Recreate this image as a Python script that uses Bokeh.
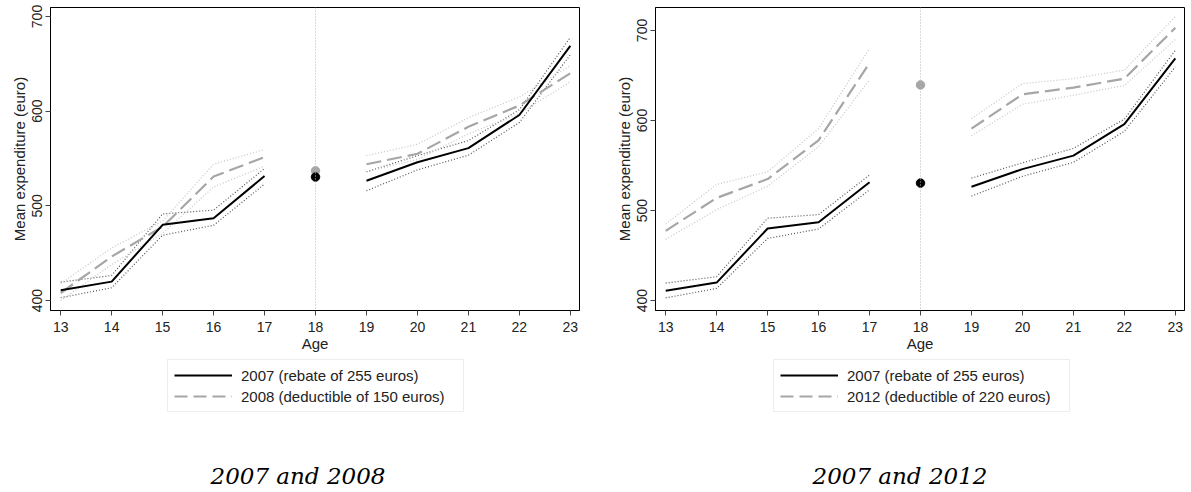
from bokeh.plotting import figure
from bokeh.models import Range1d, Legend, LegendItem, Span, FixedTicker, Label
from bokeh.layouts import row, column
from bokeh.embed import file_html
from bokeh.resources import INLINE

# ---- data ----
ages_pre = [13, 14, 15, 16, 17]
ages_post = [19, 20, 21, 22, 23]
age_cut = 18
age_ticks = [13, 14, 15, 16, 17, 18, 19, 20, 21, 22, 23]
y_ticks = [400, 500, 600, 700]

y2007_pre = [411, 420, 480, 487, 531.5]
y2007_cut = 530.5
y2007_post = [526.5, 546, 561, 596, 669]
y2007_lo_pre = [403, 413.5, 469, 479.5, 523]
y2007_lo_post = [516, 538, 553.5, 588, 659.5]
y2007_hi_pre = [419.5, 426.5, 491.5, 495.5, 539.5]
y2007_hi_post = [536, 553, 569, 601.5, 678]

y2008_pre = [408, 446.5, 478, 531, 551.5]
y2008_cut = 537
y2008_post = [544, 555, 583.5, 606, 640]
y2008_lo_pre = [400, 438, 471, 520, 542]
y2008_lo_post = [536, 549, 576, 597.5, 631]
y2008_hi_pre = [418, 455.5, 484, 544, 559.5]
y2008_hi_post = [553, 565, 593, 615, 648]

y2012_pre = [477.5, 514, 535, 578, 664]
y2012_cut = 639.5
y2012_post = [591, 629, 636.5, 646.5, 703]
y2012_lo_pre = [468, 501, 527, 571, 645]
y2012_lo_post = [583, 618, 628, 639, 690]
y2012_hi_pre = [485, 529, 543, 591, 680]
y2012_hi_post = [602, 641, 646.5, 656, 715.5]

label_2007 = "2007 (rebate of 255 euros)"
label_2008 = "2008 (deductible of 150 euros)"
label_2012 = "2012 (deductible of 220 euros)"
caption_left = "2007 and 2008"
caption_right = "2007 and 2012"

SANS = "Liberation Sans"
BLACK = "#000000"
GRAY = "#a6a6a6"
CI_DARK = "#555555"
CI_LIGHT = "#c4c4c4"

FRAME_H = 303
TOP = 7
BOTTOM_AXIS = 44
TOTAL_H = 490
MAIN_H = TOP + FRAME_H + BOTTOM_AXIS
LOWER_H = TOTAL_H - MAIN_H
NAN = float("nan")


def make_panel(yr, other, frame_w, border_right, caption, cap_x, leg_x):
    (o_pre, o_cut, o_post, o_lo_pre, o_lo_post, o_hi_pre, o_hi_post, o_label) = other
    p = figure(frame_width=frame_w, frame_height=FRAME_H,
               x_range=Range1d(12.8, 23.18), y_range=Range1d(*yr),
               output_backend="svg", toolbar_location=None,
               min_border_left=50, min_border_right=border_right,
               min_border_top=TOP, min_border_bottom=BOTTOM_AXIS,
               background_fill_color="white", border_fill_color="white")
    p.grid.visible = False
    p.outline_line_color = "black"
    p.outline_line_width = 1

    p.add_layout(Span(location=age_cut, dimension="height", line_color="#b5b5b5",
                      line_width=1, line_dash="1 2"))

    # confidence bands
    for xs, ys, c in [
        (ages_pre, y2007_lo_pre, CI_DARK), (ages_pre, y2007_hi_pre, CI_DARK),
        (ages_post, y2007_lo_post, CI_DARK), (ages_post, y2007_hi_post, CI_DARK),
        (ages_pre, o_lo_pre, CI_LIGHT), (ages_pre, o_hi_pre, CI_LIGHT),
        (ages_post, o_lo_post, CI_LIGHT), (ages_post, o_hi_post, CI_LIGHT),
    ]:
        p.line(xs, ys, line_color=c, line_width=1.2, line_dash="1 2")

    p.line(ages_pre, o_pre, line_color=GRAY, line_width=2.2, line_dash="15 6")
    p.line(ages_post, o_post, line_color=GRAY, line_width=2.2, line_dash="15 6")
    p.line(ages_pre, y2007_pre, line_color=BLACK, line_width=2)
    p.line(ages_post, y2007_post, line_color=BLACK, line_width=2)

    p.scatter([age_cut], [o_cut], size=8.5, fill_color=GRAY, line_color=GRAY)
    p.scatter([age_cut], [y2007_cut], size=8.5, fill_color=BLACK, line_color=BLACK)

    # axes
    p.xaxis.ticker = FixedTicker(ticks=age_ticks)
    p.yaxis.ticker = FixedTicker(ticks=y_ticks)
    for ax in (p.xaxis[0], p.yaxis[0]):
        ax.axis_line_color = "black"
        ax.major_tick_line_color = "#444444"
        ax.major_tick_in = 0
        ax.major_tick_out = 5
        ax.minor_tick_line_color = None
        ax.major_label_text_font = SANS
        ax.major_label_text_font_size = "14px"
        ax.major_label_text_color = "#222222"
        ax.axis_label_text_font = SANS
        ax.axis_label_text_font_size = "15px"
        ax.axis_label_text_font_style = "normal"
        ax.axis_label_text_color = "#222222"
    p.xaxis.axis_label = "Age"
    p.xaxis.major_label_standoff = 6
    p.xaxis.axis_label_standoff = 0
    p.yaxis.axis_label = "Mean expenditure (euro)"
    p.yaxis.major_label_orientation = "vertical"
    p.yaxis.major_label_standoff = 3
    p.yaxis.axis_label_standoff = 2

    # lower part: legend + caption (pixel coordinates relative to the frame, y downwards)
    q = figure(frame_width=frame_w, frame_height=LOWER_H,
               x_range=Range1d(0, frame_w), y_range=Range1d(LOWER_H, 0),
               x_axis_type=None, y_axis_type=None,
               output_backend="svg", toolbar_location=None,
               min_border_left=50, min_border_right=border_right,
               min_border_top=0, min_border_bottom=0, outline_line_color=None,
               background_fill_color="white", border_fill_color="white")
    q.grid.visible = False
    # legend proxies (draw nothing, only provide the legend samples)
    s07 = q.line(x=[age_cut], y=[NAN], line_color=BLACK, line_width=2)
    so = q.line(x=[age_cut], y=[NAN], line_color=GRAY, line_width=2, line_dash="13 6")
    leg_h = 51
    leg_top = 361 - MAIN_H
    legend = Legend(items=[LegendItem(label=label_2007, renderers=[s07]),
                           LegendItem(label=o_label, renderers=[so])],
                    location=(leg_x, LOWER_H - leg_top - leg_h),
                    orientation="vertical",
                    glyph_width=58, glyph_height=18, label_height=18,
                    label_standoff=9, label_width=216, spacing=3, padding=6,
                    margin=0,
                    label_text_font=SANS, label_text_font_size="15px",
                    label_text_color="#222222",
                    border_line_color="#dddddd", border_line_width=1,
                    background_fill_color="white", background_fill_alpha=1)
    q.add_layout(legend, "center")
    q.add_layout(Label(x=cap_x, y=475 - MAIN_H, text=caption,
                       text_font="DejaVu Serif", text_font_style="italic",
                       text_font_size="23px", text_color="black",
                       text_baseline="alphabetic", text_align="left"))
    return column(p, q, spacing=0)


c1 = make_panel((389.5, 709.5),
                (y2008_pre, y2008_cut, y2008_post, y2008_lo_pre, y2008_lo_post,
                 y2008_hi_pre, y2008_hi_post, label_2008),
                529, 26, caption_left, 160, 117)
c2 = make_panel((389, 725.5),
                (y2012_pre, y2012_cut, y2012_post, y2012_lo_pre, y2012_lo_post,
                 y2012_hi_pre, y2012_hi_post, label_2012),
                529, 2, caption_right, 157, 118)

layout = row(c1, c2, spacing=0)
open("out.html", "w").write(file_html(layout, INLINE))
